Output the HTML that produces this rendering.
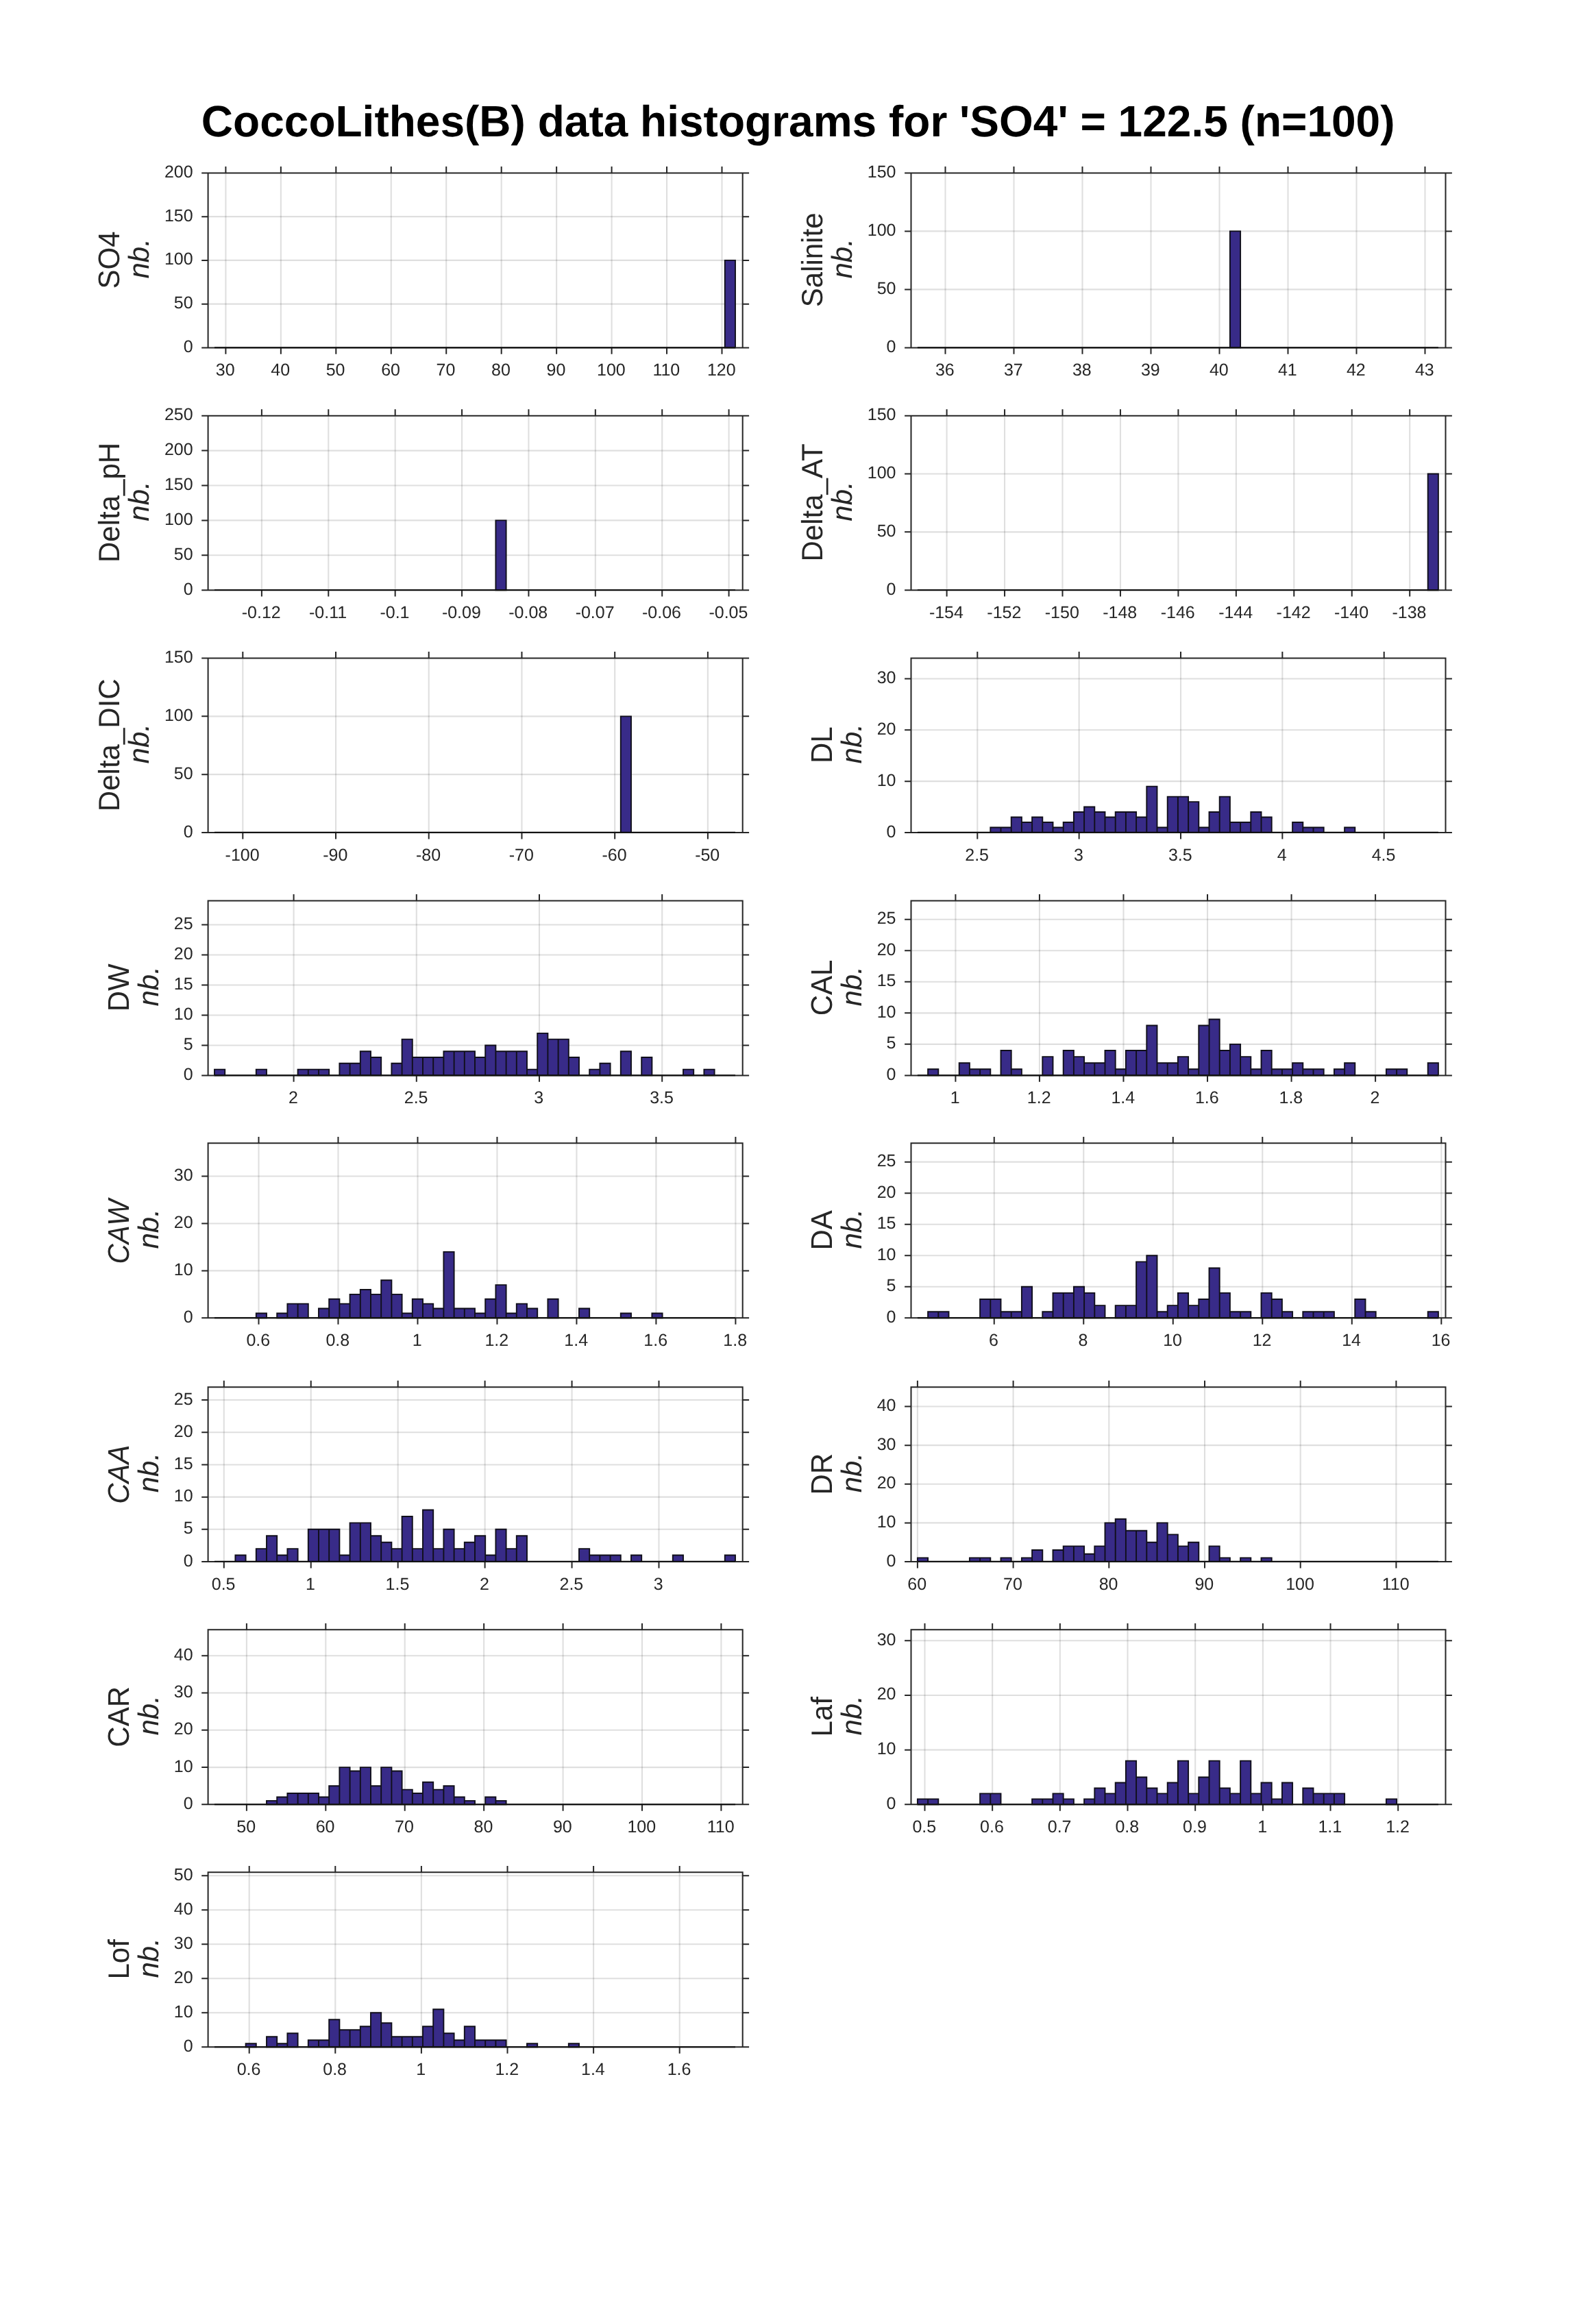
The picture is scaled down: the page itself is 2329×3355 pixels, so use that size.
<!DOCTYPE html>
<html lang="en"><head><meta charset="utf-8"><title>CoccoLithes(B) data histograms</title>
<style>html,body{margin:0;padding:0;background:#fff}body{width:2329px;height:3355px;overflow:hidden}svg{display:block;will-change:transform}text{font-family:"Liberation Sans",sans-serif;fill:#262626;text-rendering:geometricPrecision}.t{font-size:25px}.l{font-size:42px}.i{font-style:italic}.lc{font-size:43.7px}.lm{font-size:43.0px}.ti{font-size:64px;font-weight:bold;fill:#000}</style></head><body>
<svg width="2329" height="3355" viewBox="0 0 2329 3355" role="img" aria-label="CoccoLithes(B) data histograms">
<rect x="0" y="0" width="2329" height="3355" fill="#ffffff"/>
<text class="ti" x="1164.7" y="198.6" text-anchor="middle" textLength="1741.7" lengthAdjust="spacingAndGlyphs">CoccoLithes(B) data histograms for 'SO4' = 122.5 (n=100)</text>
<g>
<path d="M329.4 252.4V507.4M409.86 252.4V507.4M490.31 252.4V507.4M570.77 252.4V507.4M651.22 252.4V507.4M731.68 252.4V507.4M812.13 252.4V507.4M892.59 252.4V507.4M973.04 252.4V507.4M1053.5 252.4V507.4" stroke="#000" stroke-opacity="0.125" stroke-width="2.1" fill="none"/>
<path d="M303.6 443.65H1083.7M303.6 379.9H1083.7M303.6 316.15H1083.7" stroke="#000" stroke-opacity="0.125" stroke-width="2.1" fill="none"/>
<path d="M1057.8 507.4V379.9H1073V507.4Z" fill="#382b88" stroke="#100f1a" stroke-width="1.9" stroke-linejoin="miter"/>
<path d="M303.6 252.4H1083.7V507.4H303.6ZM329.4 507.4v9.4M329.4 252.4v-9.4M409.86 507.4v9.4M409.86 252.4v-9.4M490.31 507.4v9.4M490.31 252.4v-9.4M570.77 507.4v9.4M570.77 252.4v-9.4M651.22 507.4v9.4M651.22 252.4v-9.4M731.68 507.4v9.4M731.68 252.4v-9.4M812.13 507.4v9.4M812.13 252.4v-9.4M892.59 507.4v9.4M892.59 252.4v-9.4M973.04 507.4v9.4M973.04 252.4v-9.4M1053.5 507.4v9.4M1053.5 252.4v-9.4M303.6 507.4h-9.4M1083.7 507.4h9.4M303.6 443.65h-9.4M1083.7 443.65h9.4M303.6 379.9h-9.4M1083.7 379.9h9.4M303.6 316.15h-9.4M1083.7 316.15h9.4M303.6 252.4h-9.4M1083.7 252.4h9.4" stroke="#262626" stroke-width="2.0" fill="none" stroke-linecap="butt"/>
<path d="M313 507.25H1073" stroke="#101010" stroke-width="2" fill="none"/>
<text class="t" transform="translate(328.7 548.3) scale(1.0 1)" text-anchor="middle">30</text>
<text class="t" transform="translate(409.16 548.3) scale(1.0 1)" text-anchor="middle">40</text>
<text class="t" transform="translate(489.61 548.3) scale(1.0 1)" text-anchor="middle">50</text>
<text class="t" transform="translate(570.07 548.3) scale(1.0 1)" text-anchor="middle">60</text>
<text class="t" transform="translate(650.52 548.3) scale(1.0 1)" text-anchor="middle">70</text>
<text class="t" transform="translate(730.98 548.3) scale(1.0 1)" text-anchor="middle">80</text>
<text class="t" transform="translate(811.43 548.3) scale(1.0 1)" text-anchor="middle">90</text>
<text class="t" transform="translate(891.89 548.3) scale(1.0 1)" text-anchor="middle">100</text>
<text class="t" transform="translate(972.34 548.3) scale(1.0 1)" text-anchor="middle">110</text>
<text class="t" transform="translate(1052.8 548.3) scale(1.0 1)" text-anchor="middle">120</text>
<text class="t" transform="translate(281.6 513.9) scale(1.0 1)" text-anchor="end">0</text>
<text class="t" transform="translate(281.6 450.15) scale(1.0 1)" text-anchor="end">50</text>
<text class="t" transform="translate(281.6 386.4) scale(1.0 1)" text-anchor="end">100</text>
<text class="t" transform="translate(281.6 322.65) scale(1.0 1)" text-anchor="end">150</text>
<text class="t" transform="translate(281.6 258.9) scale(1.0 1)" text-anchor="end">200</text>
<text class="lc" transform="translate(173.9 379.4) rotate(-90) scale(0.961 1)" text-anchor="middle">SO4</text>
<text class="l i" transform="translate(216.6 377.4) rotate(-90)" text-anchor="middle">nb.</text>
</g>
<g>
<path d="M1379.5 252.4V507.4M1479.5 252.4V507.4M1579.5 252.4V507.4M1679.5 252.4V507.4M1779.5 252.4V507.4M1879.5 252.4V507.4M1979.5 252.4V507.4M2079.5 252.4V507.4" stroke="#000" stroke-opacity="0.125" stroke-width="2.1" fill="none"/>
<path d="M1329.5 422.4H2109.5M1329.5 337.4H2109.5" stroke="#000" stroke-opacity="0.125" stroke-width="2.1" fill="none"/>
<path d="M1794.9 507.4V337.4H1810.1V507.4Z" fill="#382b88" stroke="#100f1a" stroke-width="1.9" stroke-linejoin="miter"/>
<path d="M1329.5 252.4H2109.5V507.4H1329.5ZM1379.5 507.4v9.4M1379.5 252.4v-9.4M1479.5 507.4v9.4M1479.5 252.4v-9.4M1579.5 507.4v9.4M1579.5 252.4v-9.4M1679.5 507.4v9.4M1679.5 252.4v-9.4M1779.5 507.4v9.4M1779.5 252.4v-9.4M1879.5 507.4v9.4M1879.5 252.4v-9.4M1979.5 507.4v9.4M1979.5 252.4v-9.4M2079.5 507.4v9.4M2079.5 252.4v-9.4M1329.5 507.4h-9.4M2109.5 507.4h9.4M1329.5 422.4h-9.4M2109.5 422.4h9.4M1329.5 337.4h-9.4M2109.5 337.4h9.4M1329.5 252.4h-9.4M2109.5 252.4h9.4" stroke="#262626" stroke-width="2.0" fill="none" stroke-linecap="butt"/>
<path d="M1338.9 507.25H2098.9" stroke="#101010" stroke-width="2" fill="none"/>
<text class="t" transform="translate(1378.8 548.3) scale(1.0 1)" text-anchor="middle">36</text>
<text class="t" transform="translate(1478.8 548.3) scale(1.0 1)" text-anchor="middle">37</text>
<text class="t" transform="translate(1578.8 548.3) scale(1.0 1)" text-anchor="middle">38</text>
<text class="t" transform="translate(1678.8 548.3) scale(1.0 1)" text-anchor="middle">39</text>
<text class="t" transform="translate(1778.8 548.3) scale(1.0 1)" text-anchor="middle">40</text>
<text class="t" transform="translate(1878.8 548.3) scale(1.0 1)" text-anchor="middle">41</text>
<text class="t" transform="translate(1978.8 548.3) scale(1.0 1)" text-anchor="middle">42</text>
<text class="t" transform="translate(2078.8 548.3) scale(1.0 1)" text-anchor="middle">43</text>
<text class="t" transform="translate(1307.5 513.9) scale(1.0 1)" text-anchor="end">0</text>
<text class="t" transform="translate(1307.5 428.9) scale(1.0 1)" text-anchor="end">50</text>
<text class="t" transform="translate(1307.5 343.9) scale(1.0 1)" text-anchor="end">100</text>
<text class="t" transform="translate(1307.5 258.9) scale(1.0 1)" text-anchor="end">150</text>
<text class="lm" transform="translate(1199.8 379.4) rotate(-90) scale(0.977 1)" text-anchor="middle">Salinite</text>
<text class="l i" transform="translate(1242.5 377.4) rotate(-90)" text-anchor="middle">nb.</text>
</g>
<g>
<path d="M381.9 606.7V861.2M479.29 606.7V861.2M576.67 606.7V861.2M674.06 606.7V861.2M771.44 606.7V861.2M868.83 606.7V861.2M966.21 606.7V861.2M1063.6 606.7V861.2" stroke="#000" stroke-opacity="0.125" stroke-width="2.1" fill="none"/>
<path d="M303.6 810.3H1083.7M303.6 759.4H1083.7M303.6 708.5H1083.7M303.6 657.6H1083.7" stroke="#000" stroke-opacity="0.125" stroke-width="2.1" fill="none"/>
<path d="M723.4 861.2V759.4H738.6V861.2Z" fill="#382b88" stroke="#100f1a" stroke-width="1.9" stroke-linejoin="miter"/>
<path d="M303.6 606.7H1083.7V861.2H303.6ZM381.9 861.2v9.4M381.9 606.7v-9.4M479.29 861.2v9.4M479.29 606.7v-9.4M576.67 861.2v9.4M576.67 606.7v-9.4M674.06 861.2v9.4M674.06 606.7v-9.4M771.44 861.2v9.4M771.44 606.7v-9.4M868.83 861.2v9.4M868.83 606.7v-9.4M966.21 861.2v9.4M966.21 606.7v-9.4M1063.6 861.2v9.4M1063.6 606.7v-9.4M303.6 861.2h-9.4M1083.7 861.2h9.4M303.6 810.3h-9.4M1083.7 810.3h9.4M303.6 759.4h-9.4M1083.7 759.4h9.4M303.6 708.5h-9.4M1083.7 708.5h9.4M303.6 657.6h-9.4M1083.7 657.6h9.4M303.6 606.7h-9.4M1083.7 606.7h9.4" stroke="#262626" stroke-width="2.0" fill="none" stroke-linecap="butt"/>
<path d="M313 861.05H1073" stroke="#101010" stroke-width="2" fill="none"/>
<text class="t" transform="translate(381.2 902.1) scale(1.0 1)" text-anchor="middle">-0.12</text>
<text class="t" transform="translate(478.59 902.1) scale(1.0 1)" text-anchor="middle">-0.11</text>
<text class="t" transform="translate(575.97 902.1) scale(1.0 1)" text-anchor="middle">-0.1</text>
<text class="t" transform="translate(673.36 902.1) scale(1.0 1)" text-anchor="middle">-0.09</text>
<text class="t" transform="translate(770.74 902.1) scale(1.0 1)" text-anchor="middle">-0.08</text>
<text class="t" transform="translate(868.13 902.1) scale(1.0 1)" text-anchor="middle">-0.07</text>
<text class="t" transform="translate(965.51 902.1) scale(1.0 1)" text-anchor="middle">-0.06</text>
<text class="t" transform="translate(1062.9 902.1) scale(1.0 1)" text-anchor="middle">-0.05</text>
<text class="t" transform="translate(281.6 867.7) scale(1.0 1)" text-anchor="end">0</text>
<text class="t" transform="translate(281.6 816.8) scale(1.0 1)" text-anchor="end">50</text>
<text class="t" transform="translate(281.6 765.9) scale(1.0 1)" text-anchor="end">100</text>
<text class="t" transform="translate(281.6 715) scale(1.0 1)" text-anchor="end">150</text>
<text class="t" transform="translate(281.6 664.1) scale(1.0 1)" text-anchor="end">200</text>
<text class="t" transform="translate(281.6 613.2) scale(1.0 1)" text-anchor="end">250</text>
<text class="lm" transform="translate(173.9 733.45) rotate(-90) scale(0.977 1)" text-anchor="middle">Delta_pH</text>
<text class="l i" transform="translate(216.6 731.45) rotate(-90)" text-anchor="middle">nb.</text>
</g>
<g>
<path d="M1381.6 606.7V861.2M1466.05 606.7V861.2M1550.5 606.7V861.2M1634.95 606.7V861.2M1719.4 606.7V861.2M1803.85 606.7V861.2M1888.3 606.7V861.2M1972.75 606.7V861.2M2057.2 606.7V861.2" stroke="#000" stroke-opacity="0.125" stroke-width="2.1" fill="none"/>
<path d="M1329.5 776.37H2109.5M1329.5 691.53H2109.5" stroke="#000" stroke-opacity="0.125" stroke-width="2.1" fill="none"/>
<path d="M2083.7 861.2V691.53H2098.9V861.2Z" fill="#382b88" stroke="#100f1a" stroke-width="1.9" stroke-linejoin="miter"/>
<path d="M1329.5 606.7H2109.5V861.2H1329.5ZM1381.6 861.2v9.4M1381.6 606.7v-9.4M1466.05 861.2v9.4M1466.05 606.7v-9.4M1550.5 861.2v9.4M1550.5 606.7v-9.4M1634.95 861.2v9.4M1634.95 606.7v-9.4M1719.4 861.2v9.4M1719.4 606.7v-9.4M1803.85 861.2v9.4M1803.85 606.7v-9.4M1888.3 861.2v9.4M1888.3 606.7v-9.4M1972.75 861.2v9.4M1972.75 606.7v-9.4M2057.2 861.2v9.4M2057.2 606.7v-9.4M1329.5 861.2h-9.4M2109.5 861.2h9.4M1329.5 776.37h-9.4M2109.5 776.37h9.4M1329.5 691.53h-9.4M2109.5 691.53h9.4M1329.5 606.7h-9.4M2109.5 606.7h9.4" stroke="#262626" stroke-width="2.0" fill="none" stroke-linecap="butt"/>
<path d="M1338.9 861.05H2098.9" stroke="#101010" stroke-width="2" fill="none"/>
<text class="t" transform="translate(1380.9 902.1) scale(1.0 1)" text-anchor="middle">-154</text>
<text class="t" transform="translate(1465.35 902.1) scale(1.0 1)" text-anchor="middle">-152</text>
<text class="t" transform="translate(1549.8 902.1) scale(1.0 1)" text-anchor="middle">-150</text>
<text class="t" transform="translate(1634.25 902.1) scale(1.0 1)" text-anchor="middle">-148</text>
<text class="t" transform="translate(1718.7 902.1) scale(1.0 1)" text-anchor="middle">-146</text>
<text class="t" transform="translate(1803.15 902.1) scale(1.0 1)" text-anchor="middle">-144</text>
<text class="t" transform="translate(1887.6 902.1) scale(1.0 1)" text-anchor="middle">-142</text>
<text class="t" transform="translate(1972.05 902.1) scale(1.0 1)" text-anchor="middle">-140</text>
<text class="t" transform="translate(2056.5 902.1) scale(1.0 1)" text-anchor="middle">-138</text>
<text class="t" transform="translate(1307.5 867.7) scale(1.0 1)" text-anchor="end">0</text>
<text class="t" transform="translate(1307.5 782.87) scale(1.0 1)" text-anchor="end">50</text>
<text class="t" transform="translate(1307.5 698.03) scale(1.0 1)" text-anchor="end">100</text>
<text class="t" transform="translate(1307.5 613.2) scale(1.0 1)" text-anchor="end">150</text>
<text class="lm" transform="translate(1199.8 733.45) rotate(-90) scale(0.977 1)" text-anchor="middle">Delta_AT</text>
<text class="l i" transform="translate(1242.5 731.45) rotate(-90)" text-anchor="middle">nb.</text>
</g>
<g>
<path d="M354.3 960.5V1215M490.02 960.5V1215M625.74 960.5V1215M761.46 960.5V1215M897.18 960.5V1215M1032.9 960.5V1215" stroke="#000" stroke-opacity="0.125" stroke-width="2.1" fill="none"/>
<path d="M303.6 1130.17H1083.7M303.6 1045.33H1083.7" stroke="#000" stroke-opacity="0.125" stroke-width="2.1" fill="none"/>
<path d="M905.8 1215V1045.33H921V1215Z" fill="#382b88" stroke="#100f1a" stroke-width="1.9" stroke-linejoin="miter"/>
<path d="M303.6 960.5H1083.7V1215H303.6ZM354.3 1215v9.4M354.3 960.5v-9.4M490.02 1215v9.4M490.02 960.5v-9.4M625.74 1215v9.4M625.74 960.5v-9.4M761.46 1215v9.4M761.46 960.5v-9.4M897.18 1215v9.4M897.18 960.5v-9.4M1032.9 1215v9.4M1032.9 960.5v-9.4M303.6 1215h-9.4M1083.7 1215h9.4M303.6 1130.17h-9.4M1083.7 1130.17h9.4M303.6 1045.33h-9.4M1083.7 1045.33h9.4M303.6 960.5h-9.4M1083.7 960.5h9.4" stroke="#262626" stroke-width="2.0" fill="none" stroke-linecap="butt"/>
<path d="M313 1214.85H1073" stroke="#101010" stroke-width="2" fill="none"/>
<text class="t" transform="translate(353.6 1255.9) scale(1.0 1)" text-anchor="middle">-100</text>
<text class="t" transform="translate(489.32 1255.9) scale(1.0 1)" text-anchor="middle">-90</text>
<text class="t" transform="translate(625.04 1255.9) scale(1.0 1)" text-anchor="middle">-80</text>
<text class="t" transform="translate(760.76 1255.9) scale(1.0 1)" text-anchor="middle">-70</text>
<text class="t" transform="translate(896.48 1255.9) scale(1.0 1)" text-anchor="middle">-60</text>
<text class="t" transform="translate(1032.2 1255.9) scale(1.0 1)" text-anchor="middle">-50</text>
<text class="t" transform="translate(281.6 1221.5) scale(1.0 1)" text-anchor="end">0</text>
<text class="t" transform="translate(281.6 1136.67) scale(1.0 1)" text-anchor="end">50</text>
<text class="t" transform="translate(281.6 1051.83) scale(1.0 1)" text-anchor="end">100</text>
<text class="t" transform="translate(281.6 967) scale(1.0 1)" text-anchor="end">150</text>
<text class="lm" transform="translate(173.9 1087.25) rotate(-90) scale(0.977 1)" text-anchor="middle">Delta_DIC</text>
<text class="l i" transform="translate(216.6 1085.25) rotate(-90)" text-anchor="middle">nb.</text>
</g>
<g>
<path d="M1426.3 960.5V1215M1574.65 960.5V1215M1723 960.5V1215M1871.35 960.5V1215M2019.7 960.5V1215" stroke="#000" stroke-opacity="0.125" stroke-width="2.1" fill="none"/>
<path d="M1329.5 1140.15H2109.5M1329.5 1065.29H2109.5M1329.5 990.44H2109.5" stroke="#000" stroke-opacity="0.125" stroke-width="2.1" fill="none"/>
<path d="M1445.3 1215V1207.51H1460.5V1215ZM1460.5 1215V1207.51H1475.7V1215ZM1475.7 1215V1192.54H1490.9V1215ZM1490.9 1215V1200.03H1506.1V1215ZM1506.1 1215V1192.54H1521.3V1215ZM1521.3 1215V1200.03H1536.5V1215ZM1536.5 1215V1207.51H1551.7V1215ZM1551.7 1215V1200.03H1566.9V1215ZM1566.9 1215V1185.06H1582.1V1215ZM1582.1 1215V1177.57H1597.3V1215ZM1597.3 1215V1185.06H1612.5V1215ZM1612.5 1215V1192.54H1627.7V1215ZM1627.7 1215V1185.06H1642.9V1215ZM1642.9 1215V1185.06H1658.1V1215ZM1658.1 1215V1192.54H1673.3V1215ZM1673.3 1215V1147.63H1688.5V1215ZM1688.5 1215V1207.51H1703.7V1215ZM1703.7 1215V1162.6H1718.9V1215ZM1718.9 1215V1162.6H1734.1V1215ZM1734.1 1215V1170.09H1749.3V1215ZM1749.3 1215V1207.51H1764.5V1215ZM1764.5 1215V1185.06H1779.7V1215ZM1779.7 1215V1162.6H1794.9V1215ZM1794.9 1215V1200.03H1810.1V1215ZM1810.1 1215V1200.03H1825.3V1215ZM1825.3 1215V1185.06H1840.5V1215ZM1840.5 1215V1192.54H1855.7V1215ZM1886.1 1215V1200.03H1901.3V1215ZM1901.3 1215V1207.51H1916.5V1215ZM1916.5 1215V1207.51H1931.7V1215ZM1962.1 1215V1207.51H1977.3V1215Z" fill="#382b88" stroke="#100f1a" stroke-width="1.9" stroke-linejoin="miter"/>
<path d="M1329.5 960.5H2109.5V1215H1329.5ZM1426.3 1215v9.4M1426.3 960.5v-9.4M1574.65 1215v9.4M1574.65 960.5v-9.4M1723 1215v9.4M1723 960.5v-9.4M1871.35 1215v9.4M1871.35 960.5v-9.4M2019.7 1215v9.4M2019.7 960.5v-9.4M1329.5 1215h-9.4M2109.5 1215h9.4M1329.5 1140.15h-9.4M2109.5 1140.15h9.4M1329.5 1065.29h-9.4M2109.5 1065.29h9.4M1329.5 990.44h-9.4M2109.5 990.44h9.4" stroke="#262626" stroke-width="2.0" fill="none" stroke-linecap="butt"/>
<path d="M1338.9 1214.85H2098.9" stroke="#101010" stroke-width="2" fill="none"/>
<text class="t" transform="translate(1425.6 1255.9) scale(1.0 1)" text-anchor="middle">2.5</text>
<text class="t" transform="translate(1573.95 1255.9) scale(1.0 1)" text-anchor="middle">3</text>
<text class="t" transform="translate(1722.3 1255.9) scale(1.0 1)" text-anchor="middle">3.5</text>
<text class="t" transform="translate(1870.65 1255.9) scale(1.0 1)" text-anchor="middle">4</text>
<text class="t" transform="translate(2019 1255.9) scale(1.0 1)" text-anchor="middle">4.5</text>
<text class="t" transform="translate(1307.5 1221.5) scale(1.0 1)" text-anchor="end">0</text>
<text class="t" transform="translate(1307.5 1146.65) scale(1.0 1)" text-anchor="end">10</text>
<text class="t" transform="translate(1307.5 1071.79) scale(1.0 1)" text-anchor="end">20</text>
<text class="t" transform="translate(1307.5 996.94) scale(1.0 1)" text-anchor="end">30</text>
<text class="lc" transform="translate(1213.8 1087.25) rotate(-90) scale(0.961 1)" text-anchor="middle">DL</text>
<text class="l i" transform="translate(1256.5 1085.25) rotate(-90)" text-anchor="middle">nb.</text>
</g>
<g>
<path d="M428.6 1314.4V1569.4M607.8 1314.4V1569.4M787 1314.4V1569.4M966.2 1314.4V1569.4" stroke="#000" stroke-opacity="0.125" stroke-width="2.1" fill="none"/>
<path d="M303.6 1525.43H1083.7M303.6 1481.47H1083.7M303.6 1437.5H1083.7M303.6 1393.54H1083.7M303.6 1349.57H1083.7" stroke="#000" stroke-opacity="0.125" stroke-width="2.1" fill="none"/>
<path d="M313 1569.4V1560.61H328.2V1569.4ZM373.8 1569.4V1560.61H389V1569.4ZM434.6 1569.4V1560.61H449.8V1569.4ZM449.8 1569.4V1560.61H465V1569.4ZM465 1569.4V1560.61H480.2V1569.4ZM495.4 1569.4V1551.81H510.6V1569.4ZM510.6 1569.4V1551.81H525.8V1569.4ZM525.8 1569.4V1534.23H541V1569.4ZM541 1569.4V1543.02H556.2V1569.4ZM571.4 1569.4V1551.81H586.6V1569.4ZM586.6 1569.4V1516.64H601.8V1569.4ZM601.8 1569.4V1543.02H617V1569.4ZM617 1569.4V1543.02H632.2V1569.4ZM632.2 1569.4V1543.02H647.4V1569.4ZM647.4 1569.4V1534.23H662.6V1569.4ZM662.6 1569.4V1534.23H677.8V1569.4ZM677.8 1569.4V1534.23H693V1569.4ZM693 1569.4V1543.02H708.2V1569.4ZM708.2 1569.4V1525.43H723.4V1569.4ZM723.4 1569.4V1534.23H738.6V1569.4ZM738.6 1569.4V1534.23H753.8V1569.4ZM753.8 1569.4V1534.23H769V1569.4ZM769 1569.4V1560.61H784.2V1569.4ZM784.2 1569.4V1507.85H799.4V1569.4ZM799.4 1569.4V1516.64H814.6V1569.4ZM814.6 1569.4V1516.64H829.8V1569.4ZM829.8 1569.4V1543.02H845V1569.4ZM860.2 1569.4V1560.61H875.4V1569.4ZM875.4 1569.4V1551.81H890.6V1569.4ZM905.8 1569.4V1534.23H921V1569.4ZM936.2 1569.4V1543.02H951.4V1569.4ZM997 1569.4V1560.61H1012.2V1569.4ZM1027.4 1569.4V1560.61H1042.6V1569.4Z" fill="#382b88" stroke="#100f1a" stroke-width="1.9" stroke-linejoin="miter"/>
<path d="M303.6 1314.4H1083.7V1569.4H303.6ZM428.6 1569.4v9.4M428.6 1314.4v-9.4M607.8 1569.4v9.4M607.8 1314.4v-9.4M787 1569.4v9.4M787 1314.4v-9.4M966.2 1569.4v9.4M966.2 1314.4v-9.4M303.6 1569.4h-9.4M1083.7 1569.4h9.4M303.6 1525.43h-9.4M1083.7 1525.43h9.4M303.6 1481.47h-9.4M1083.7 1481.47h9.4M303.6 1437.5h-9.4M1083.7 1437.5h9.4M303.6 1393.54h-9.4M1083.7 1393.54h9.4M303.6 1349.57h-9.4M1083.7 1349.57h9.4" stroke="#262626" stroke-width="2.0" fill="none" stroke-linecap="butt"/>
<path d="M313 1569.25H1073" stroke="#101010" stroke-width="2" fill="none"/>
<text class="t" transform="translate(427.9 1610.3) scale(1.0 1)" text-anchor="middle">2</text>
<text class="t" transform="translate(607.1 1610.3) scale(1.0 1)" text-anchor="middle">2.5</text>
<text class="t" transform="translate(786.3 1610.3) scale(1.0 1)" text-anchor="middle">3</text>
<text class="t" transform="translate(965.5 1610.3) scale(1.0 1)" text-anchor="middle">3.5</text>
<text class="t" transform="translate(281.6 1575.9) scale(1.0 1)" text-anchor="end">0</text>
<text class="t" transform="translate(281.6 1531.93) scale(1.0 1)" text-anchor="end">5</text>
<text class="t" transform="translate(281.6 1487.97) scale(1.0 1)" text-anchor="end">10</text>
<text class="t" transform="translate(281.6 1444) scale(1.0 1)" text-anchor="end">15</text>
<text class="t" transform="translate(281.6 1400.04) scale(1.0 1)" text-anchor="end">20</text>
<text class="t" transform="translate(281.6 1356.07) scale(1.0 1)" text-anchor="end">25</text>
<text class="lc" transform="translate(187.9 1441.4) rotate(-90) scale(0.961 1)" text-anchor="middle">DW</text>
<text class="l i" transform="translate(230.6 1439.4) rotate(-90)" text-anchor="middle">nb.</text>
</g>
<g>
<path d="M1394.4 1314.4V1569.4M1516.94 1314.4V1569.4M1639.48 1314.4V1569.4M1762.02 1314.4V1569.4M1884.56 1314.4V1569.4M2007.1 1314.4V1569.4" stroke="#000" stroke-opacity="0.125" stroke-width="2.1" fill="none"/>
<path d="M1329.5 1523.86H2109.5M1329.5 1478.33H2109.5M1329.5 1432.79H2109.5M1329.5 1387.26H2109.5M1329.5 1341.72H2109.5" stroke="#000" stroke-opacity="0.125" stroke-width="2.1" fill="none"/>
<path d="M1354.1 1569.4V1560.29H1369.3V1569.4ZM1399.7 1569.4V1551.19H1414.9V1569.4ZM1414.9 1569.4V1560.29H1430.1V1569.4ZM1430.1 1569.4V1560.29H1445.3V1569.4ZM1460.5 1569.4V1532.97H1475.7V1569.4ZM1475.7 1569.4V1560.29H1490.9V1569.4ZM1521.3 1569.4V1542.08H1536.5V1569.4ZM1551.7 1569.4V1532.97H1566.9V1569.4ZM1566.9 1569.4V1542.08H1582.1V1569.4ZM1582.1 1569.4V1551.19H1597.3V1569.4ZM1597.3 1569.4V1551.19H1612.5V1569.4ZM1612.5 1569.4V1532.97H1627.7V1569.4ZM1627.7 1569.4V1560.29H1642.9V1569.4ZM1642.9 1569.4V1532.97H1658.1V1569.4ZM1658.1 1569.4V1532.97H1673.3V1569.4ZM1673.3 1569.4V1496.54H1688.5V1569.4ZM1688.5 1569.4V1551.19H1703.7V1569.4ZM1703.7 1569.4V1551.19H1718.9V1569.4ZM1718.9 1569.4V1542.08H1734.1V1569.4ZM1734.1 1569.4V1560.29H1749.3V1569.4ZM1749.3 1569.4V1496.54H1764.5V1569.4ZM1764.5 1569.4V1487.44H1779.7V1569.4ZM1779.7 1569.4V1532.97H1794.9V1569.4ZM1794.9 1569.4V1523.86H1810.1V1569.4ZM1810.1 1569.4V1542.08H1825.3V1569.4ZM1825.3 1569.4V1560.29H1840.5V1569.4ZM1840.5 1569.4V1532.97H1855.7V1569.4ZM1855.7 1569.4V1560.29H1870.9V1569.4ZM1870.9 1569.4V1560.29H1886.1V1569.4ZM1886.1 1569.4V1551.19H1901.3V1569.4ZM1901.3 1569.4V1560.29H1916.5V1569.4ZM1916.5 1569.4V1560.29H1931.7V1569.4ZM1946.9 1569.4V1560.29H1962.1V1569.4ZM1962.1 1569.4V1551.19H1977.3V1569.4ZM2022.9 1569.4V1560.29H2038.1V1569.4ZM2038.1 1569.4V1560.29H2053.3V1569.4ZM2083.7 1569.4V1551.19H2098.9V1569.4Z" fill="#382b88" stroke="#100f1a" stroke-width="1.9" stroke-linejoin="miter"/>
<path d="M1329.5 1314.4H2109.5V1569.4H1329.5ZM1394.4 1569.4v9.4M1394.4 1314.4v-9.4M1516.94 1569.4v9.4M1516.94 1314.4v-9.4M1639.48 1569.4v9.4M1639.48 1314.4v-9.4M1762.02 1569.4v9.4M1762.02 1314.4v-9.4M1884.56 1569.4v9.4M1884.56 1314.4v-9.4M2007.1 1569.4v9.4M2007.1 1314.4v-9.4M1329.5 1569.4h-9.4M2109.5 1569.4h9.4M1329.5 1523.86h-9.4M2109.5 1523.86h9.4M1329.5 1478.33h-9.4M2109.5 1478.33h9.4M1329.5 1432.79h-9.4M2109.5 1432.79h9.4M1329.5 1387.26h-9.4M2109.5 1387.26h9.4M1329.5 1341.72h-9.4M2109.5 1341.72h9.4" stroke="#262626" stroke-width="2.0" fill="none" stroke-linecap="butt"/>
<path d="M1338.9 1569.25H2098.9" stroke="#101010" stroke-width="2" fill="none"/>
<text class="t" transform="translate(1393.7 1610.3) scale(1.0 1)" text-anchor="middle">1</text>
<text class="t" transform="translate(1516.24 1610.3) scale(1.0 1)" text-anchor="middle">1.2</text>
<text class="t" transform="translate(1638.78 1610.3) scale(1.0 1)" text-anchor="middle">1.4</text>
<text class="t" transform="translate(1761.32 1610.3) scale(1.0 1)" text-anchor="middle">1.6</text>
<text class="t" transform="translate(1883.86 1610.3) scale(1.0 1)" text-anchor="middle">1.8</text>
<text class="t" transform="translate(2006.4 1610.3) scale(1.0 1)" text-anchor="middle">2</text>
<text class="t" transform="translate(1307.5 1575.9) scale(1.0 1)" text-anchor="end">0</text>
<text class="t" transform="translate(1307.5 1530.36) scale(1.0 1)" text-anchor="end">5</text>
<text class="t" transform="translate(1307.5 1484.83) scale(1.0 1)" text-anchor="end">10</text>
<text class="t" transform="translate(1307.5 1439.29) scale(1.0 1)" text-anchor="end">15</text>
<text class="t" transform="translate(1307.5 1393.76) scale(1.0 1)" text-anchor="end">20</text>
<text class="t" transform="translate(1307.5 1348.22) scale(1.0 1)" text-anchor="end">25</text>
<text class="lc" transform="translate(1213.8 1441.4) rotate(-90) scale(0.961 1)" text-anchor="middle">CAL</text>
<text class="l i" transform="translate(1256.5 1439.4) rotate(-90)" text-anchor="middle">nb.</text>
</g>
<g>
<path d="M377.5 1668.3V1923.35M493.48 1668.3V1923.35M609.47 1668.3V1923.35M725.45 1668.3V1923.35M841.43 1668.3V1923.35M957.42 1668.3V1923.35M1073.4 1668.3V1923.35" stroke="#000" stroke-opacity="0.125" stroke-width="2.1" fill="none"/>
<path d="M303.6 1854.42H1083.7M303.6 1785.49H1083.7M303.6 1716.55H1083.7" stroke="#000" stroke-opacity="0.125" stroke-width="2.1" fill="none"/>
<path d="M373.8 1923.35V1916.46H389V1923.35ZM404.2 1923.35V1916.46H419.4V1923.35ZM419.4 1923.35V1902.67H434.6V1923.35ZM434.6 1923.35V1902.67H449.8V1923.35ZM465 1923.35V1909.56H480.2V1923.35ZM480.2 1923.35V1895.78H495.4V1923.35ZM495.4 1923.35V1902.67H510.6V1923.35ZM510.6 1923.35V1888.88H525.8V1923.35ZM525.8 1923.35V1881.99H541V1923.35ZM541 1923.35V1888.88H556.2V1923.35ZM556.2 1923.35V1868.2H571.4V1923.35ZM571.4 1923.35V1888.88H586.6V1923.35ZM586.6 1923.35V1916.46H601.8V1923.35ZM601.8 1923.35V1895.78H617V1923.35ZM617 1923.35V1902.67H632.2V1923.35ZM632.2 1923.35V1909.56H647.4V1923.35ZM647.4 1923.35V1826.84H662.6V1923.35ZM662.6 1923.35V1909.56H677.8V1923.35ZM677.8 1923.35V1909.56H693V1923.35ZM693 1923.35V1916.46H708.2V1923.35ZM708.2 1923.35V1895.78H723.4V1923.35ZM723.4 1923.35V1875.1H738.6V1923.35ZM738.6 1923.35V1916.46H753.8V1923.35ZM753.8 1923.35V1902.67H769V1923.35ZM769 1923.35V1909.56H784.2V1923.35ZM799.4 1923.35V1895.78H814.6V1923.35ZM845 1923.35V1909.56H860.2V1923.35ZM905.8 1923.35V1916.46H921V1923.35ZM951.4 1923.35V1916.46H966.6V1923.35Z" fill="#382b88" stroke="#100f1a" stroke-width="1.9" stroke-linejoin="miter"/>
<path d="M303.6 1668.3H1083.7V1923.35H303.6ZM377.5 1923.35v9.4M377.5 1668.3v-9.4M493.48 1923.35v9.4M493.48 1668.3v-9.4M609.47 1923.35v9.4M609.47 1668.3v-9.4M725.45 1923.35v9.4M725.45 1668.3v-9.4M841.43 1923.35v9.4M841.43 1668.3v-9.4M957.42 1923.35v9.4M957.42 1668.3v-9.4M1073.4 1923.35v9.4M1073.4 1668.3v-9.4M303.6 1923.35h-9.4M1083.7 1923.35h9.4M303.6 1854.42h-9.4M1083.7 1854.42h9.4M303.6 1785.49h-9.4M1083.7 1785.49h9.4M303.6 1716.55h-9.4M1083.7 1716.55h9.4" stroke="#262626" stroke-width="2.0" fill="none" stroke-linecap="butt"/>
<path d="M313 1923.2H1073" stroke="#101010" stroke-width="2" fill="none"/>
<text class="t" transform="translate(376.8 1964.25) scale(1.0 1)" text-anchor="middle">0.6</text>
<text class="t" transform="translate(492.78 1964.25) scale(1.0 1)" text-anchor="middle">0.8</text>
<text class="t" transform="translate(608.77 1964.25) scale(1.0 1)" text-anchor="middle">1</text>
<text class="t" transform="translate(724.75 1964.25) scale(1.0 1)" text-anchor="middle">1.2</text>
<text class="t" transform="translate(840.73 1964.25) scale(1.0 1)" text-anchor="middle">1.4</text>
<text class="t" transform="translate(956.72 1964.25) scale(1.0 1)" text-anchor="middle">1.6</text>
<text class="t" transform="translate(1072.7 1964.25) scale(1.0 1)" text-anchor="middle">1.8</text>
<text class="t" transform="translate(281.6 1929.85) scale(1.0 1)" text-anchor="end">0</text>
<text class="t" transform="translate(281.6 1860.92) scale(1.0 1)" text-anchor="end">10</text>
<text class="t" transform="translate(281.6 1791.99) scale(1.0 1)" text-anchor="end">20</text>
<text class="t" transform="translate(281.6 1723.05) scale(1.0 1)" text-anchor="end">30</text>
<text class="lc i" transform="translate(187.9 1797.52) rotate(-90) scale(0.927 1)" text-anchor="middle">CAW</text>
<text class="l i" transform="translate(230.6 1793.32) rotate(-90)" text-anchor="middle">nb.</text>
</g>
<g>
<path d="M1450.75 1668.3V1923.35M1581.26 1668.3V1923.35M1711.77 1668.3V1923.35M1842.28 1668.3V1923.35M1972.79 1668.3V1923.35M2103.3 1668.3V1923.35" stroke="#000" stroke-opacity="0.125" stroke-width="2.1" fill="none"/>
<path d="M1329.5 1877.81H2109.5M1329.5 1832.26H2109.5M1329.5 1786.72H2109.5M1329.5 1741.17H2109.5M1329.5 1695.63H2109.5" stroke="#000" stroke-opacity="0.125" stroke-width="2.1" fill="none"/>
<path d="M1354.1 1923.35V1914.24H1369.3V1923.35ZM1369.3 1923.35V1914.24H1384.5V1923.35ZM1430.1 1923.35V1896.02H1445.3V1923.35ZM1445.3 1923.35V1896.02H1460.5V1923.35ZM1460.5 1923.35V1914.24H1475.7V1923.35ZM1475.7 1923.35V1914.24H1490.9V1923.35ZM1490.9 1923.35V1877.81H1506.1V1923.35ZM1521.3 1923.35V1914.24H1536.5V1923.35ZM1536.5 1923.35V1886.91H1551.7V1923.35ZM1551.7 1923.35V1886.91H1566.9V1923.35ZM1566.9 1923.35V1877.81H1582.1V1923.35ZM1582.1 1923.35V1886.91H1597.3V1923.35ZM1597.3 1923.35V1905.13H1612.5V1923.35ZM1627.7 1923.35V1905.13H1642.9V1923.35ZM1642.9 1923.35V1905.13H1658.1V1923.35ZM1658.1 1923.35V1841.37H1673.3V1923.35ZM1673.3 1923.35V1832.26H1688.5V1923.35ZM1688.5 1923.35V1914.24H1703.7V1923.35ZM1703.7 1923.35V1905.13H1718.9V1923.35ZM1718.9 1923.35V1886.91H1734.1V1923.35ZM1734.1 1923.35V1905.13H1749.3V1923.35ZM1749.3 1923.35V1896.02H1764.5V1923.35ZM1764.5 1923.35V1850.48H1779.7V1923.35ZM1779.7 1923.35V1886.91H1794.9V1923.35ZM1794.9 1923.35V1914.24H1810.1V1923.35ZM1810.1 1923.35V1914.24H1825.3V1923.35ZM1840.5 1923.35V1886.91H1855.7V1923.35ZM1855.7 1923.35V1896.02H1870.9V1923.35ZM1870.9 1923.35V1914.24H1886.1V1923.35ZM1901.3 1923.35V1914.24H1916.5V1923.35ZM1916.5 1923.35V1914.24H1931.7V1923.35ZM1931.7 1923.35V1914.24H1946.9V1923.35ZM1977.3 1923.35V1896.02H1992.5V1923.35ZM1992.5 1923.35V1914.24H2007.7V1923.35ZM2083.7 1923.35V1914.24H2098.9V1923.35Z" fill="#382b88" stroke="#100f1a" stroke-width="1.9" stroke-linejoin="miter"/>
<path d="M1329.5 1668.3H2109.5V1923.35H1329.5ZM1450.75 1923.35v9.4M1450.75 1668.3v-9.4M1581.26 1923.35v9.4M1581.26 1668.3v-9.4M1711.77 1923.35v9.4M1711.77 1668.3v-9.4M1842.28 1923.35v9.4M1842.28 1668.3v-9.4M1972.79 1923.35v9.4M1972.79 1668.3v-9.4M2103.3 1923.35v9.4M2103.3 1668.3v-9.4M1329.5 1923.35h-9.4M2109.5 1923.35h9.4M1329.5 1877.81h-9.4M2109.5 1877.81h9.4M1329.5 1832.26h-9.4M2109.5 1832.26h9.4M1329.5 1786.72h-9.4M2109.5 1786.72h9.4M1329.5 1741.17h-9.4M2109.5 1741.17h9.4M1329.5 1695.63h-9.4M2109.5 1695.63h9.4" stroke="#262626" stroke-width="2.0" fill="none" stroke-linecap="butt"/>
<path d="M1338.9 1923.2H2098.9" stroke="#101010" stroke-width="2" fill="none"/>
<text class="t" transform="translate(1450.05 1964.25) scale(1.0 1)" text-anchor="middle">6</text>
<text class="t" transform="translate(1580.56 1964.25) scale(1.0 1)" text-anchor="middle">8</text>
<text class="t" transform="translate(1711.07 1964.25) scale(1.0 1)" text-anchor="middle">10</text>
<text class="t" transform="translate(1841.58 1964.25) scale(1.0 1)" text-anchor="middle">12</text>
<text class="t" transform="translate(1972.09 1964.25) scale(1.0 1)" text-anchor="middle">14</text>
<text class="t" transform="translate(2102.6 1964.25) scale(1.0 1)" text-anchor="middle">16</text>
<text class="t" transform="translate(1307.5 1929.85) scale(1.0 1)" text-anchor="end">0</text>
<text class="t" transform="translate(1307.5 1884.31) scale(1.0 1)" text-anchor="end">5</text>
<text class="t" transform="translate(1307.5 1838.76) scale(1.0 1)" text-anchor="end">10</text>
<text class="t" transform="translate(1307.5 1793.22) scale(1.0 1)" text-anchor="end">15</text>
<text class="t" transform="translate(1307.5 1747.67) scale(1.0 1)" text-anchor="end">20</text>
<text class="t" transform="translate(1307.5 1702.13) scale(1.0 1)" text-anchor="end">25</text>
<text class="lc" transform="translate(1213.8 1795.32) rotate(-90) scale(0.961 1)" text-anchor="middle">DA</text>
<text class="l i" transform="translate(1256.5 1793.32) rotate(-90)" text-anchor="middle">nb.</text>
</g>
<g>
<path d="M326.8 2024.2V2279M453.74 2024.2V2279M580.68 2024.2V2279M707.62 2024.2V2279M834.56 2024.2V2279M961.5 2024.2V2279" stroke="#000" stroke-opacity="0.125" stroke-width="2.1" fill="none"/>
<path d="M303.6 2231.81H1083.7M303.6 2184.63H1083.7M303.6 2137.44H1083.7M303.6 2090.26H1083.7M303.6 2043.07H1083.7" stroke="#000" stroke-opacity="0.125" stroke-width="2.1" fill="none"/>
<path d="M343.4 2279V2269.56H358.6V2279ZM373.8 2279V2260.13H389V2279ZM389 2279V2241.25H404.2V2279ZM404.2 2279V2269.56H419.4V2279ZM419.4 2279V2260.13H434.6V2279ZM449.8 2279V2231.81H465V2279ZM465 2279V2231.81H480.2V2279ZM480.2 2279V2231.81H495.4V2279ZM495.4 2279V2269.56H510.6V2279ZM510.6 2279V2222.38H525.8V2279ZM525.8 2279V2222.38H541V2279ZM541 2279V2241.25H556.2V2279ZM556.2 2279V2250.69H571.4V2279ZM571.4 2279V2260.13H586.6V2279ZM586.6 2279V2212.94H601.8V2279ZM601.8 2279V2260.13H617V2279ZM617 2279V2203.5H632.2V2279ZM632.2 2279V2260.13H647.4V2279ZM647.4 2279V2231.81H662.6V2279ZM662.6 2279V2260.13H677.8V2279ZM677.8 2279V2250.69H693V2279ZM693 2279V2241.25H708.2V2279ZM708.2 2279V2269.56H723.4V2279ZM723.4 2279V2231.81H738.6V2279ZM738.6 2279V2260.13H753.8V2279ZM753.8 2279V2241.25H769V2279ZM845 2279V2260.13H860.2V2279ZM860.2 2279V2269.56H875.4V2279ZM875.4 2279V2269.56H890.6V2279ZM890.6 2279V2269.56H905.8V2279ZM921 2279V2269.56H936.2V2279ZM981.8 2279V2269.56H997V2279ZM1057.8 2279V2269.56H1073V2279Z" fill="#382b88" stroke="#100f1a" stroke-width="1.9" stroke-linejoin="miter"/>
<path d="M303.6 2024.2H1083.7V2279H303.6ZM326.8 2279v9.4M326.8 2024.2v-9.4M453.74 2279v9.4M453.74 2024.2v-9.4M580.68 2279v9.4M580.68 2024.2v-9.4M707.62 2279v9.4M707.62 2024.2v-9.4M834.56 2279v9.4M834.56 2024.2v-9.4M961.5 2279v9.4M961.5 2024.2v-9.4M303.6 2279h-9.4M1083.7 2279h9.4M303.6 2231.81h-9.4M1083.7 2231.81h9.4M303.6 2184.63h-9.4M1083.7 2184.63h9.4M303.6 2137.44h-9.4M1083.7 2137.44h9.4M303.6 2090.26h-9.4M1083.7 2090.26h9.4M303.6 2043.07h-9.4M1083.7 2043.07h9.4" stroke="#262626" stroke-width="2.0" fill="none" stroke-linecap="butt"/>
<path d="M313 2278.85H1073" stroke="#101010" stroke-width="2" fill="none"/>
<text class="t" transform="translate(326.1 2319.9) scale(1.0 1)" text-anchor="middle">0.5</text>
<text class="t" transform="translate(453.04 2319.9) scale(1.0 1)" text-anchor="middle">1</text>
<text class="t" transform="translate(579.98 2319.9) scale(1.0 1)" text-anchor="middle">1.5</text>
<text class="t" transform="translate(706.92 2319.9) scale(1.0 1)" text-anchor="middle">2</text>
<text class="t" transform="translate(833.86 2319.9) scale(1.0 1)" text-anchor="middle">2.5</text>
<text class="t" transform="translate(960.8 2319.9) scale(1.0 1)" text-anchor="middle">3</text>
<text class="t" transform="translate(281.6 2285.5) scale(1.0 1)" text-anchor="end">0</text>
<text class="t" transform="translate(281.6 2238.31) scale(1.0 1)" text-anchor="end">5</text>
<text class="t" transform="translate(281.6 2191.13) scale(1.0 1)" text-anchor="end">10</text>
<text class="t" transform="translate(281.6 2143.94) scale(1.0 1)" text-anchor="end">15</text>
<text class="t" transform="translate(281.6 2096.76) scale(1.0 1)" text-anchor="end">20</text>
<text class="t" transform="translate(281.6 2049.57) scale(1.0 1)" text-anchor="end">25</text>
<text class="lc i" transform="translate(187.9 2151.6) rotate(-90) scale(0.961 1)" text-anchor="middle">CAA</text>
<text class="l i" transform="translate(230.6 2149.1) rotate(-90)" text-anchor="middle">nb.</text>
</g>
<g>
<path d="M1338.9 2024.2V2279M1478.6 2024.2V2279M1618.3 2024.2V2279M1758 2024.2V2279M1897.7 2024.2V2279M2037.4 2024.2V2279" stroke="#000" stroke-opacity="0.125" stroke-width="2.1" fill="none"/>
<path d="M1329.5 2222.38H2109.5M1329.5 2165.76H2109.5M1329.5 2109.13H2109.5M1329.5 2052.51H2109.5" stroke="#000" stroke-opacity="0.125" stroke-width="2.1" fill="none"/>
<path d="M1338.9 2279V2273.34H1354.1V2279ZM1414.9 2279V2273.34H1430.1V2279ZM1430.1 2279V2273.34H1445.3V2279ZM1460.5 2279V2273.34H1475.7V2279ZM1490.9 2279V2273.34H1506.1V2279ZM1506.1 2279V2262.01H1521.3V2279ZM1536.5 2279V2262.01H1551.7V2279ZM1551.7 2279V2256.35H1566.9V2279ZM1566.9 2279V2256.35H1582.1V2279ZM1582.1 2279V2267.68H1597.3V2279ZM1597.3 2279V2256.35H1612.5V2279ZM1612.5 2279V2222.38H1627.7V2279ZM1627.7 2279V2216.72H1642.9V2279ZM1642.9 2279V2233.7H1658.1V2279ZM1658.1 2279V2233.7H1673.3V2279ZM1673.3 2279V2250.69H1688.5V2279ZM1688.5 2279V2222.38H1703.7V2279ZM1703.7 2279V2239.36H1718.9V2279ZM1718.9 2279V2256.35H1734.1V2279ZM1734.1 2279V2250.69H1749.3V2279ZM1764.5 2279V2256.35H1779.7V2279ZM1779.7 2279V2273.34H1794.9V2279ZM1810.1 2279V2273.34H1825.3V2279ZM1840.5 2279V2273.34H1855.7V2279Z" fill="#382b88" stroke="#100f1a" stroke-width="1.9" stroke-linejoin="miter"/>
<path d="M1329.5 2024.2H2109.5V2279H1329.5ZM1338.9 2279v9.4M1338.9 2024.2v-9.4M1478.6 2279v9.4M1478.6 2024.2v-9.4M1618.3 2279v9.4M1618.3 2024.2v-9.4M1758 2279v9.4M1758 2024.2v-9.4M1897.7 2279v9.4M1897.7 2024.2v-9.4M2037.4 2279v9.4M2037.4 2024.2v-9.4M1329.5 2279h-9.4M2109.5 2279h9.4M1329.5 2222.38h-9.4M2109.5 2222.38h9.4M1329.5 2165.76h-9.4M2109.5 2165.76h9.4M1329.5 2109.13h-9.4M2109.5 2109.13h9.4M1329.5 2052.51h-9.4M2109.5 2052.51h9.4" stroke="#262626" stroke-width="2.0" fill="none" stroke-linecap="butt"/>
<path d="M1338.9 2278.85H2098.9" stroke="#101010" stroke-width="2" fill="none"/>
<text class="t" transform="translate(1338.2 2319.9) scale(1.0 1)" text-anchor="middle">60</text>
<text class="t" transform="translate(1477.9 2319.9) scale(1.0 1)" text-anchor="middle">70</text>
<text class="t" transform="translate(1617.6 2319.9) scale(1.0 1)" text-anchor="middle">80</text>
<text class="t" transform="translate(1757.3 2319.9) scale(1.0 1)" text-anchor="middle">90</text>
<text class="t" transform="translate(1897 2319.9) scale(1.0 1)" text-anchor="middle">100</text>
<text class="t" transform="translate(2036.7 2319.9) scale(1.0 1)" text-anchor="middle">110</text>
<text class="t" transform="translate(1307.5 2285.5) scale(1.0 1)" text-anchor="end">0</text>
<text class="t" transform="translate(1307.5 2228.88) scale(1.0 1)" text-anchor="end">10</text>
<text class="t" transform="translate(1307.5 2172.26) scale(1.0 1)" text-anchor="end">20</text>
<text class="t" transform="translate(1307.5 2115.63) scale(1.0 1)" text-anchor="end">30</text>
<text class="t" transform="translate(1307.5 2059.01) scale(1.0 1)" text-anchor="end">40</text>
<text class="lc" transform="translate(1213.8 2151.1) rotate(-90) scale(0.961 1)" text-anchor="middle">DR</text>
<text class="l i" transform="translate(1256.5 2149.1) rotate(-90)" text-anchor="middle">nb.</text>
</g>
<g>
<path d="M359.9 2378.3V2633.35M475.32 2378.3V2633.35M590.73 2378.3V2633.35M706.15 2378.3V2633.35M821.57 2378.3V2633.35M936.98 2378.3V2633.35M1052.4 2378.3V2633.35" stroke="#000" stroke-opacity="0.125" stroke-width="2.1" fill="none"/>
<path d="M303.6 2579.08H1083.7M303.6 2524.82H1083.7M303.6 2470.55H1083.7M303.6 2416.29H1083.7" stroke="#000" stroke-opacity="0.125" stroke-width="2.1" fill="none"/>
<path d="M389 2633.35V2627.92H404.2V2633.35ZM404.2 2633.35V2622.5H419.4V2633.35ZM419.4 2633.35V2617.07H434.6V2633.35ZM434.6 2633.35V2617.07H449.8V2633.35ZM449.8 2633.35V2617.07H465V2633.35ZM465 2633.35V2622.5H480.2V2633.35ZM480.2 2633.35V2606.22H495.4V2633.35ZM495.4 2633.35V2579.08H510.6V2633.35ZM510.6 2633.35V2584.51H525.8V2633.35ZM525.8 2633.35V2579.08H541V2633.35ZM541 2633.35V2606.22H556.2V2633.35ZM556.2 2633.35V2579.08H571.4V2633.35ZM571.4 2633.35V2584.51H586.6V2633.35ZM586.6 2633.35V2611.64H601.8V2633.35ZM601.8 2633.35V2617.07H617V2633.35ZM617 2633.35V2600.79H632.2V2633.35ZM632.2 2633.35V2611.64H647.4V2633.35ZM647.4 2633.35V2606.22H662.6V2633.35ZM662.6 2633.35V2622.5H677.8V2633.35ZM677.8 2633.35V2627.92H693V2633.35ZM708.2 2633.35V2622.5H723.4V2633.35ZM723.4 2633.35V2627.92H738.6V2633.35Z" fill="#382b88" stroke="#100f1a" stroke-width="1.9" stroke-linejoin="miter"/>
<path d="M303.6 2378.3H1083.7V2633.35H303.6ZM359.9 2633.35v9.4M359.9 2378.3v-9.4M475.32 2633.35v9.4M475.32 2378.3v-9.4M590.73 2633.35v9.4M590.73 2378.3v-9.4M706.15 2633.35v9.4M706.15 2378.3v-9.4M821.57 2633.35v9.4M821.57 2378.3v-9.4M936.98 2633.35v9.4M936.98 2378.3v-9.4M1052.4 2633.35v9.4M1052.4 2378.3v-9.4M303.6 2633.35h-9.4M1083.7 2633.35h9.4M303.6 2579.08h-9.4M1083.7 2579.08h9.4M303.6 2524.82h-9.4M1083.7 2524.82h9.4M303.6 2470.55h-9.4M1083.7 2470.55h9.4M303.6 2416.29h-9.4M1083.7 2416.29h9.4" stroke="#262626" stroke-width="2.0" fill="none" stroke-linecap="butt"/>
<path d="M313 2633.2H1073" stroke="#101010" stroke-width="2" fill="none"/>
<text class="t" transform="translate(359.2 2674.25) scale(1.0 1)" text-anchor="middle">50</text>
<text class="t" transform="translate(474.62 2674.25) scale(1.0 1)" text-anchor="middle">60</text>
<text class="t" transform="translate(590.03 2674.25) scale(1.0 1)" text-anchor="middle">70</text>
<text class="t" transform="translate(705.45 2674.25) scale(1.0 1)" text-anchor="middle">80</text>
<text class="t" transform="translate(820.87 2674.25) scale(1.0 1)" text-anchor="middle">90</text>
<text class="t" transform="translate(936.28 2674.25) scale(1.0 1)" text-anchor="middle">100</text>
<text class="t" transform="translate(1051.7 2674.25) scale(1.0 1)" text-anchor="middle">110</text>
<text class="t" transform="translate(281.6 2639.85) scale(1.0 1)" text-anchor="end">0</text>
<text class="t" transform="translate(281.6 2585.58) scale(1.0 1)" text-anchor="end">10</text>
<text class="t" transform="translate(281.6 2531.32) scale(1.0 1)" text-anchor="end">20</text>
<text class="t" transform="translate(281.6 2477.05) scale(1.0 1)" text-anchor="end">30</text>
<text class="t" transform="translate(281.6 2422.79) scale(1.0 1)" text-anchor="end">40</text>
<text class="lc" transform="translate(187.9 2505.32) rotate(-90) scale(0.961 1)" text-anchor="middle">CAR</text>
<text class="l i" transform="translate(230.6 2503.32) rotate(-90)" text-anchor="middle">nb.</text>
</g>
<g>
<path d="M1349.5 2378.3V2633.35M1448.17 2378.3V2633.35M1546.84 2378.3V2633.35M1645.51 2378.3V2633.35M1744.19 2378.3V2633.35M1842.86 2378.3V2633.35M1941.53 2378.3V2633.35M2040.2 2378.3V2633.35" stroke="#000" stroke-opacity="0.125" stroke-width="2.1" fill="none"/>
<path d="M1329.5 2553.65H2109.5M1329.5 2473.94H2109.5M1329.5 2394.24H2109.5" stroke="#000" stroke-opacity="0.125" stroke-width="2.1" fill="none"/>
<path d="M1338.9 2633.35V2625.38H1354.1V2633.35ZM1354.1 2633.35V2625.38H1369.3V2633.35ZM1430.1 2633.35V2617.41H1445.3V2633.35ZM1445.3 2633.35V2617.41H1460.5V2633.35ZM1506.1 2633.35V2625.38H1521.3V2633.35ZM1521.3 2633.35V2625.38H1536.5V2633.35ZM1536.5 2633.35V2617.41H1551.7V2633.35ZM1551.7 2633.35V2625.38H1566.9V2633.35ZM1582.1 2633.35V2625.38H1597.3V2633.35ZM1597.3 2633.35V2609.44H1612.5V2633.35ZM1612.5 2633.35V2617.41H1627.7V2633.35ZM1627.7 2633.35V2601.47H1642.9V2633.35ZM1642.9 2633.35V2569.59H1658.1V2633.35ZM1658.1 2633.35V2593.5H1673.3V2633.35ZM1673.3 2633.35V2609.44H1688.5V2633.35ZM1688.5 2633.35V2617.41H1703.7V2633.35ZM1703.7 2633.35V2601.47H1718.9V2633.35ZM1718.9 2633.35V2569.59H1734.1V2633.35ZM1734.1 2633.35V2617.41H1749.3V2633.35ZM1749.3 2633.35V2593.5H1764.5V2633.35ZM1764.5 2633.35V2569.59H1779.7V2633.35ZM1779.7 2633.35V2609.44H1794.9V2633.35ZM1794.9 2633.35V2617.41H1810.1V2633.35ZM1810.1 2633.35V2569.59H1825.3V2633.35ZM1825.3 2633.35V2617.41H1840.5V2633.35ZM1840.5 2633.35V2601.47H1855.7V2633.35ZM1855.7 2633.35V2625.38H1870.9V2633.35ZM1870.9 2633.35V2601.47H1886.1V2633.35ZM1901.3 2633.35V2609.44H1916.5V2633.35ZM1916.5 2633.35V2617.41H1931.7V2633.35ZM1931.7 2633.35V2617.41H1946.9V2633.35ZM1946.9 2633.35V2617.41H1962.1V2633.35ZM2022.9 2633.35V2625.38H2038.1V2633.35Z" fill="#382b88" stroke="#100f1a" stroke-width="1.9" stroke-linejoin="miter"/>
<path d="M1329.5 2378.3H2109.5V2633.35H1329.5ZM1349.5 2633.35v9.4M1349.5 2378.3v-9.4M1448.17 2633.35v9.4M1448.17 2378.3v-9.4M1546.84 2633.35v9.4M1546.84 2378.3v-9.4M1645.51 2633.35v9.4M1645.51 2378.3v-9.4M1744.19 2633.35v9.4M1744.19 2378.3v-9.4M1842.86 2633.35v9.4M1842.86 2378.3v-9.4M1941.53 2633.35v9.4M1941.53 2378.3v-9.4M2040.2 2633.35v9.4M2040.2 2378.3v-9.4M1329.5 2633.35h-9.4M2109.5 2633.35h9.4M1329.5 2553.65h-9.4M2109.5 2553.65h9.4M1329.5 2473.94h-9.4M2109.5 2473.94h9.4M1329.5 2394.24h-9.4M2109.5 2394.24h9.4" stroke="#262626" stroke-width="2.0" fill="none" stroke-linecap="butt"/>
<path d="M1338.9 2633.2H2098.9" stroke="#101010" stroke-width="2" fill="none"/>
<text class="t" transform="translate(1348.8 2674.25) scale(1.0 1)" text-anchor="middle">0.5</text>
<text class="t" transform="translate(1447.47 2674.25) scale(1.0 1)" text-anchor="middle">0.6</text>
<text class="t" transform="translate(1546.14 2674.25) scale(1.0 1)" text-anchor="middle">0.7</text>
<text class="t" transform="translate(1644.81 2674.25) scale(1.0 1)" text-anchor="middle">0.8</text>
<text class="t" transform="translate(1743.49 2674.25) scale(1.0 1)" text-anchor="middle">0.9</text>
<text class="t" transform="translate(1842.16 2674.25) scale(1.0 1)" text-anchor="middle">1</text>
<text class="t" transform="translate(1940.83 2674.25) scale(1.0 1)" text-anchor="middle">1.1</text>
<text class="t" transform="translate(2039.5 2674.25) scale(1.0 1)" text-anchor="middle">1.2</text>
<text class="t" transform="translate(1307.5 2639.85) scale(1.0 1)" text-anchor="end">0</text>
<text class="t" transform="translate(1307.5 2560.15) scale(1.0 1)" text-anchor="end">10</text>
<text class="t" transform="translate(1307.5 2480.44) scale(1.0 1)" text-anchor="end">20</text>
<text class="t" transform="translate(1307.5 2400.74) scale(1.0 1)" text-anchor="end">30</text>
<text class="lm" transform="translate(1213.8 2505.32) rotate(-90) scale(0.977 1)" text-anchor="middle">Laf</text>
<text class="l i" transform="translate(1256.5 2503.32) rotate(-90)" text-anchor="middle">nb.</text>
</g>
<g>
<path d="M363.7 2732.3V2987.3M489.3 2732.3V2987.3M614.9 2732.3V2987.3M740.5 2732.3V2987.3M866.1 2732.3V2987.3M991.7 2732.3V2987.3" stroke="#000" stroke-opacity="0.125" stroke-width="2.1" fill="none"/>
<path d="M303.6 2937.3H1083.7M303.6 2887.3H1083.7M303.6 2837.3H1083.7M303.6 2787.3H1083.7M303.6 2737.3H1083.7" stroke="#000" stroke-opacity="0.125" stroke-width="2.1" fill="none"/>
<path d="M358.6 2987.3V2982.3H373.8V2987.3ZM389 2987.3V2972.3H404.2V2987.3ZM404.2 2987.3V2982.3H419.4V2987.3ZM419.4 2987.3V2967.3H434.6V2987.3ZM449.8 2987.3V2977.3H465V2987.3ZM465 2987.3V2977.3H480.2V2987.3ZM480.2 2987.3V2947.3H495.4V2987.3ZM495.4 2987.3V2962.3H510.6V2987.3ZM510.6 2987.3V2962.3H525.8V2987.3ZM525.8 2987.3V2957.3H541V2987.3ZM541 2987.3V2937.3H556.2V2987.3ZM556.2 2987.3V2952.3H571.4V2987.3ZM571.4 2987.3V2972.3H586.6V2987.3ZM586.6 2987.3V2972.3H601.8V2987.3ZM601.8 2987.3V2972.3H617V2987.3ZM617 2987.3V2957.3H632.2V2987.3ZM632.2 2987.3V2932.3H647.4V2987.3ZM647.4 2987.3V2967.3H662.6V2987.3ZM662.6 2987.3V2977.3H677.8V2987.3ZM677.8 2987.3V2957.3H693V2987.3ZM693 2987.3V2977.3H708.2V2987.3ZM708.2 2987.3V2977.3H723.4V2987.3ZM723.4 2987.3V2977.3H738.6V2987.3ZM769 2987.3V2982.3H784.2V2987.3ZM829.8 2987.3V2982.3H845V2987.3Z" fill="#382b88" stroke="#100f1a" stroke-width="1.9" stroke-linejoin="miter"/>
<path d="M303.6 2732.3H1083.7V2987.3H303.6ZM363.7 2987.3v9.4M363.7 2732.3v-9.4M489.3 2987.3v9.4M489.3 2732.3v-9.4M614.9 2987.3v9.4M614.9 2732.3v-9.4M740.5 2987.3v9.4M740.5 2732.3v-9.4M866.1 2987.3v9.4M866.1 2732.3v-9.4M991.7 2987.3v9.4M991.7 2732.3v-9.4M303.6 2987.3h-9.4M1083.7 2987.3h9.4M303.6 2937.3h-9.4M1083.7 2937.3h9.4M303.6 2887.3h-9.4M1083.7 2887.3h9.4M303.6 2837.3h-9.4M1083.7 2837.3h9.4M303.6 2787.3h-9.4M1083.7 2787.3h9.4M303.6 2737.3h-9.4M1083.7 2737.3h9.4" stroke="#262626" stroke-width="2.0" fill="none" stroke-linecap="butt"/>
<path d="M313 2987.15H1073" stroke="#101010" stroke-width="2" fill="none"/>
<text class="t" transform="translate(363 3028.2) scale(1.0 1)" text-anchor="middle">0.6</text>
<text class="t" transform="translate(488.6 3028.2) scale(1.0 1)" text-anchor="middle">0.8</text>
<text class="t" transform="translate(614.2 3028.2) scale(1.0 1)" text-anchor="middle">1</text>
<text class="t" transform="translate(739.8 3028.2) scale(1.0 1)" text-anchor="middle">1.2</text>
<text class="t" transform="translate(865.4 3028.2) scale(1.0 1)" text-anchor="middle">1.4</text>
<text class="t" transform="translate(991 3028.2) scale(1.0 1)" text-anchor="middle">1.6</text>
<text class="t" transform="translate(281.6 2993.8) scale(1.0 1)" text-anchor="end">0</text>
<text class="t" transform="translate(281.6 2943.8) scale(1.0 1)" text-anchor="end">10</text>
<text class="t" transform="translate(281.6 2893.8) scale(1.0 1)" text-anchor="end">20</text>
<text class="t" transform="translate(281.6 2843.8) scale(1.0 1)" text-anchor="end">30</text>
<text class="t" transform="translate(281.6 2793.8) scale(1.0 1)" text-anchor="end">40</text>
<text class="t" transform="translate(281.6 2743.8) scale(1.0 1)" text-anchor="end">50</text>
<text class="lm" transform="translate(187.9 2859.3) rotate(-90) scale(0.977 1)" text-anchor="middle">Lof</text>
<text class="l i" transform="translate(230.6 2857.3) rotate(-90)" text-anchor="middle">nb.</text>
</g>
</svg></body></html>
